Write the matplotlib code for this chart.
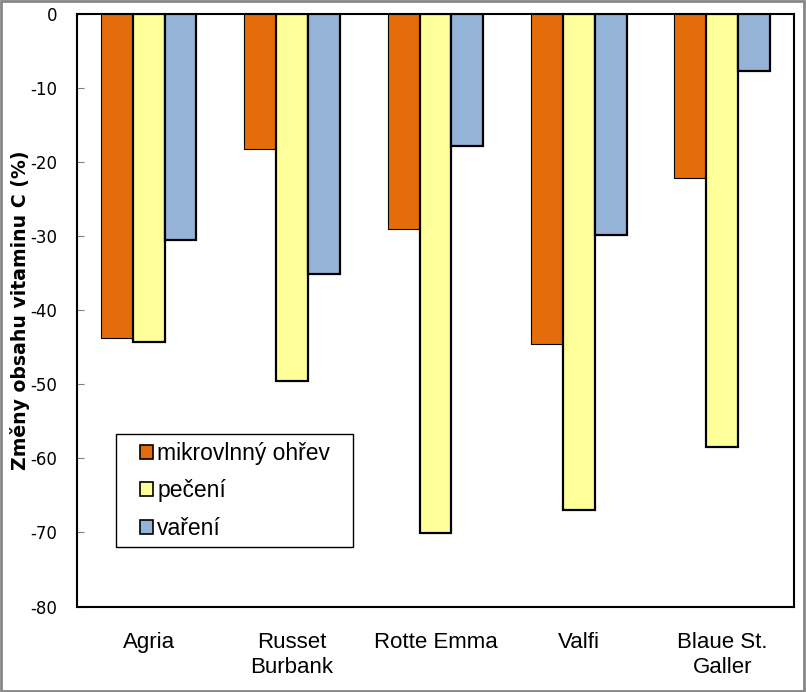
import matplotlib
matplotlib.use("Agg")
import matplotlib.pyplot as plt
import numpy as np
from matplotlib.patches import Rectangle

plt.rcParams['axes.unicode_minus'] = False

odrudy = ['Agria', 'Russet\nBurbank', 'Rotte Emma', 'Valfi', 'Blaue St.\nGaller']
mikrovlny = [-43.8, -18.2, -29.1, -44.6, -22.1]
peceni = [-44.3, -49.5, -70.1, -67.0, -58.5]
vareni = [-30.5, -35.1, -17.8, -29.9, -7.7]
nazvy = ['mikrovlnný ohřev', 'pečení', 'vaření']
barvy = ['#E46C0A', '#FFFF99', '#95B3D7']

fig = plt.figure(figsize=(8.06, 6.92), dpi=100)
ax = fig.add_axes([0.0955, 0.1235, 0.8895, 0.8565])

x = np.arange(len(odrudy))
w = 0.222
serie = [mikrovlny, peceni, vareni]
sirky = [0.8, 1.6, 1.6]
for i, data in enumerate(serie):
    ax.bar(x + (i - 1) * w, data, w, color=barvy[i], edgecolor='black',
           linewidth=sirky[i], label=nazvy[i], zorder=3)

ax.set_xlim(-0.5, len(odrudy) - 0.5)
ax.set_ylim(-80, 0)
ax.set_yticks(range(-80, 1, 10))
ax.set_xticks(x)
ax.set_xticklabels(odrudy, fontsize=16, family='Liberation Sans', linespacing=1.25)
ax.tick_params(axis='x', length=0, pad=18)
ax.tick_params(axis='y', direction='in', length=5, color='#808080', pad=14, labelsize=12)
for s in ax.spines.values():
    s.set_linewidth(1.5)
    s.set_color('black')

ax.set_ylabel('Změny obsahu vitaminu C (%)', fontsize=13.6, fontweight='bold')
ax.yaxis.set_label_coords(-0.066, 0.5)

leg = ax.legend(loc='upper left', bbox_to_anchor=(0.0879, 0.278), frameon=False,
                prop={'family': 'Liberation Sans', 'size': 16.5},
                handlelength=0.55, handleheight=0.55, handletextpad=0.2,
                labelspacing=0.64, borderpad=0, borderaxespad=0)
for h in leg.legend_handles:
    h.set_linewidth(1.2)
ax.add_patch(Rectangle((0.054, 0.100), 0.331, 0.191, transform=ax.transAxes,
                       fill=False, edgecolor='black', linewidth=1, zorder=5))

fig.patches.append(Rectangle((0.001, 0.001), 0.997, 0.997, transform=fig.transFigure,
                             fill=False, edgecolor='#868686', linewidth=2))

fig.savefig('out.png', dpi=100)
